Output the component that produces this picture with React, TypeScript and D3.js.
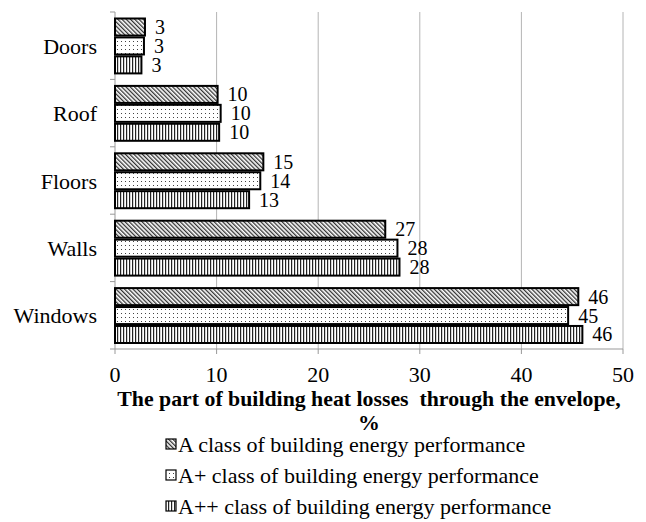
import * as d3 from "d3";
import { useEffect, useRef } from "react";

const categories = ["Doors", "Roof", "Floors", "Walls", "Windows"];
const seriesNames = [
  "A class of building energy performance",
  "A+ class of building energy performance",
  "A++ class of building energy performance",
];
const seriesA = [2.95, 10.1, 14.6, 26.6, 45.6];
const seriesAPlus = [2.85, 10.4, 14.3, 27.8, 44.6];
const seriesAPlusPlus = [2.6, 10.25, 13.2, 28.0, 46.0];
const labelsA = ["3", "10", "15", "27", "46"];
const labelsAPlus = ["3", "10", "14", "28", "45"];
const labelsAPlusPlus = ["3", "10", "13", "28", "46"];
const xTicks = [0, 10, 20, 30, 40, 50];

const FONT = "'Liberation Serif', 'Times New Roman', serif";

export default function App() {
  const svgRef = useRef<SVGSVGElement>(null);

  useEffect(() => {
    const svg = d3.select(svgRef.current);
    svg.selectAll("*").remove();

    const width = 646, height = 522;
    const left = 115, right = 623, top = 12, bottom = 349;

    const defs = svg.append("defs");
    // diagonal hatch
    const pA = defs.append("pattern").attr("id", "pA").attr("patternUnits", "userSpaceOnUse")
      .attr("width", 3).attr("height", 3).attr("patternTransform", "rotate(-45)");
    pA.append("rect").attr("width", 3).attr("height", 3).attr("fill", "#fff");
    pA.append("rect").attr("width", 1.3).attr("height", 3).attr("fill", "#333");
    // dots
    const pB = defs.append("pattern").attr("id", "pB").attr("patternUnits", "userSpaceOnUse")
      .attr("width", 4).attr("height", 4);
    pB.append("rect").attr("width", 4).attr("height", 4).attr("fill", "#fff");
    pB.append("rect").attr("x", 1).attr("y", 1).attr("width", 1).attr("height", 1).attr("fill", "#444");
    // vertical lines
    const pC = defs.append("pattern").attr("id", "pC").attr("patternUnits", "userSpaceOnUse")
      .attr("width", 3).attr("height", 3);
    pC.append("rect").attr("width", 3).attr("height", 3).attr("fill", "#fff");
    pC.append("rect").attr("width", 1.2).attr("height", 3).attr("fill", "#222");

    const fills = ["url(#pA)", "url(#pB)", "url(#pC)"];
    const values = [seriesA, seriesAPlus, seriesAPlusPlus];
    const labels = [labelsA, labelsAPlus, labelsAPlusPlus];

    const x = d3.scaleLinear().domain([0, 50]).range([left, right]);
    const y0 = d3.scaleBand().domain(categories).range([top, bottom]).padding(0);
    const y1 = d3.scaleBand().domain(seriesNames).range([6.5, y0.bandwidth() - 6]).paddingInner(0.1);

    // gridlines
    svg.append("g").selectAll("line").data(xTicks.slice(1)).enter().append("line")
      .attr("x1", d => x(d)).attr("x2", d => x(d)).attr("y1", top).attr("y2", bottom)
      .attr("stroke", "#b4b4b4").attr("stroke-width", 1);

    // y axis
    svg.append("line").attr("x1", left).attr("x2", left).attr("y1", top).attr("y2", bottom)
      .attr("stroke", "#999").attr("stroke-width", 1);
    const yTickPos = categories.map(c => y0(c)!).concat([bottom]);
    svg.append("g").selectAll("line").data(yTickPos).enter().append("line")
      .attr("x1", left - 5).attr("x2", left).attr("y1", d => d).attr("y2", d => d)
      .attr("stroke", "#999");

    // x axis
    svg.append("line").attr("x1", left).attr("x2", right).attr("y1", bottom).attr("y2", bottom)
      .attr("stroke", "#999");
    svg.append("g").selectAll("line").data(xTicks).enter().append("line")
      .attr("x1", d => x(d)).attr("x2", d => x(d)).attr("y1", bottom).attr("y2", bottom + 5)
      .attr("stroke", "#999");
    svg.append("g").selectAll("text").data(xTicks).enter().append("text")
      .attr("x", d => x(d)).attr("y", 382).attr("text-anchor", "middle")
      .attr("font-family", FONT).attr("font-size", 22).text(d => d);

    // category labels
    svg.append("g").selectAll("text").data(categories).enter().append("text")
      .attr("x", 97).attr("y", d => y0(d)! + y0.bandwidth() / 2 + 8)
      .attr("text-anchor", "end").attr("font-family", FONT).attr("font-size", 22).text(d => d);

    // bars
    seriesNames.forEach((s, si) => {
      const g = svg.append("g");
      g.selectAll("rect").data(categories).enter().append("rect")
        .attr("x", x(0))
        .attr("y", c => y0(c)! + y1(s)!)
        .attr("width", (c, i) => x(values[si][i]) - x(0))
        .attr("height", y1.bandwidth())
        .attr("fill", fills[si]).attr("stroke", "#000").attr("stroke-width", 2);
      g.selectAll("text").data(categories).enter().append("text")
        .attr("x", (c, i) => x(values[si][i]) + 10)
        .attr("y", c => y0(c)! + y1(s)! + y1.bandwidth() / 2 + 7)
        .attr("font-family", FONT).attr("font-size", 20)
        .text((c, i) => labels[si][i]);
    });

    // axis title
    svg.append("text").attr("x", 369).attr("y", 406).attr("text-anchor", "middle")
      .attr("font-family", FONT).attr("font-size", 21.8).attr("font-weight", "bold")
      .attr("xml:space", "preserve")
      .text("The part of building heat losses  through the envelope,");
    svg.append("text").attr("x", 369).attr("y", 430).attr("text-anchor", "middle")
      .attr("font-family", FONT).attr("font-size", 21.8).attr("font-weight", "bold").text("%");

    // legend
    const lg = svg.append("g");
    seriesNames.forEach((s, i) => {
      const yy = 452 + i * 31;
      lg.append("rect").attr("x", 166).attr("y", yy - 13).attr("width", 10).attr("height", 10)
        .attr("fill", fills[i]).attr("stroke", "#000").attr("stroke-width", 1.2);
      lg.append("text").attr("x", 178).attr("y", yy).attr("font-family", FONT)
        .attr("font-size", 22).text(s);
    });

    svg.attr("width", width).attr("height", height);
  }, []);

  return (
    <svg ref={svgRef} width={646} height={522}
      style={{ position: "absolute", left: 0, top: 0, background: "#fff" }} />
  );
}
